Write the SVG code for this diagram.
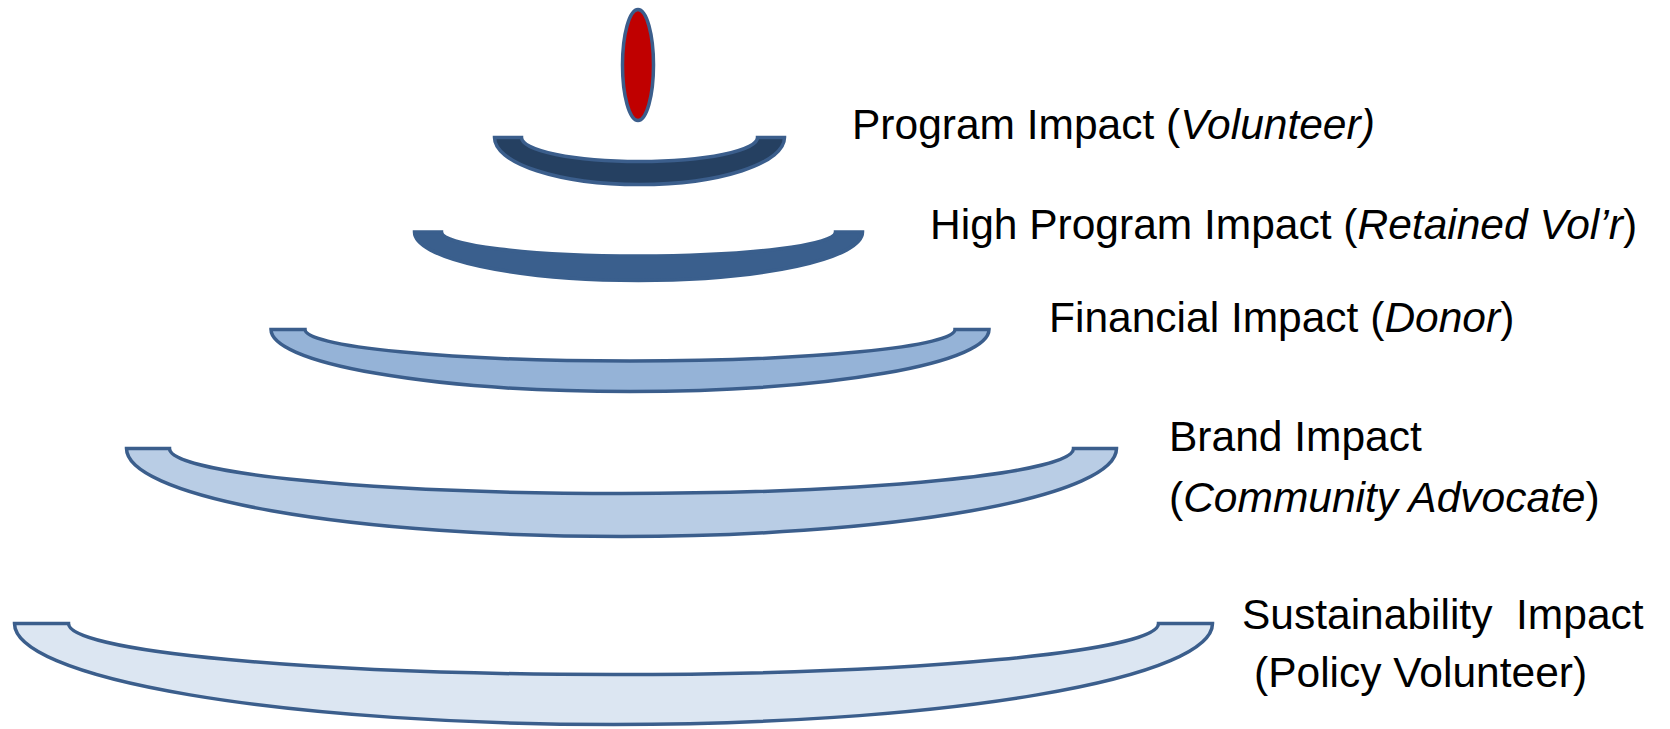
<svg xmlns="http://www.w3.org/2000/svg" width="1670" height="729" viewBox="0 0 1670 729">
  <style>
    .ring { stroke: #3B5E8C; stroke-width: 3.5; stroke-linejoin: miter; }
    .lbl { font-family: "Liberation Sans", Arial, sans-serif; font-size: 42.5px; fill: #000; }
    .it { font-style: italic; }
  </style>
  <rect width="1670" height="729" fill="#FFFFFF"/>

  <!-- top drop -->
  <g id="drop">
    <ellipse cx="638" cy="65" rx="15.5" ry="55.5" fill="#C00000" class="ring"/>
  </g>

  <!-- bowl tiers: M left-outer, L left-notch, inner arc, L right-outer, outer arc back -->
  <g id="tier-program">
    <path class="ring" fill="#254061" d="M494.5,137.5 L521.5,137.5 A118,24 0 0 0 757.5,137.5 L784.5,137.5 A145,47 0 0 1 494.5,137.5 Z"/>
    <text class="lbl" x="852" y="139">Program Impact (<tspan class="it">Volunteer)</tspan></text>
  </g>

  <g id="tier-high-program">
    <path class="ring" style="stroke:#3A5F8D" fill="#3A5F8D" d="M414.5,232 L441.5,232 A197,24 0 0 0 835.5,232 L862.5,232 A224,48.5 0 0 1 414.5,232 Z"/>
    <text class="lbl" x="930" y="239">High Program Impact (<tspan class="it">Retained Vol’r</tspan>)</text>
  </g>

  <g id="tier-financial">
    <path class="ring" fill="#95B3D7" d="M271,329.5 L305,329.5 A325,31.5 0 0 0 955,329.5 L989,329.5 A359,62 0 0 1 271,329.5 Z"/>
    <text class="lbl" x="1049" y="332">Financial Impact (<tspan class="it">Donor</tspan>)</text>
  </g>

  <g id="tier-brand">
    <path class="ring" fill="#B9CDE5" d="M126.5,448.5 L169.5,448.5 A452,45 0 0 0 1073.5,448.5 L1116.5,448.5 A495,88 0 0 1 126.5,448.5 Z"/>
    <text class="lbl" x="1169" y="451">Brand Impact</text>
    <text class="lbl" x="1169" y="512">(<tspan class="it">Community Advocate</tspan>)</text>
  </g>

  <g id="tier-sustainability">
    <path class="ring" fill="#DCE6F2" d="M14.5,623.5 L68.5,623.5 A545,51 0 0 0 1158.5,623.5 L1212.5,623.5 A599,101 0 0 1 14.5,623.5 Z"/>
    <text class="lbl" x="1242" y="629" xml:space="preserve">Sustainability  Impact</text>
    <text class="lbl" x="1254" y="687">(Policy Volunteer)</text>
  </g>

  <g id="connectors"></g>
</svg>
